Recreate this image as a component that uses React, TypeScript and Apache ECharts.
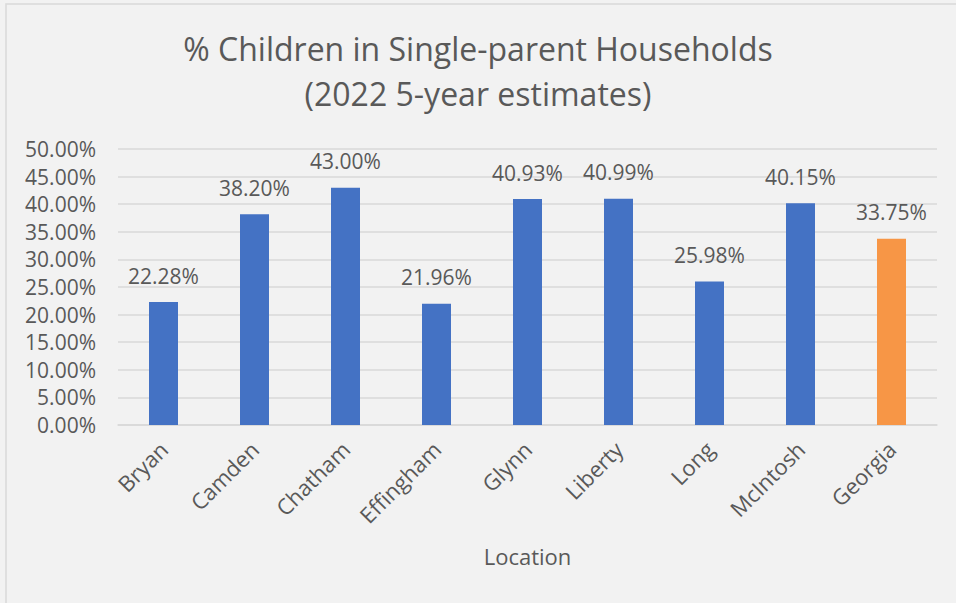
import React, { useEffect, useRef } from "react";
import * as echarts from "echarts";

const categories = ["Bryan", "Camden", "Chatham", "Effingham", "Glynn", "Liberty", "Long", "McIntosh", "Georgia"];
const values = [0.2228, 0.382, 0.43, 0.2196, 0.4093, 0.4099, 0.2598, 0.4015, 0.3375];
const highlightCategory = "Georgia";

const FONT = "'Open Sans', sans-serif";
const TEXT = "#595959";

export default function App() {
  const ref = useRef<HTMLDivElement>(null);
  useEffect(() => {
    if (!ref.current) return;
    const chart = echarts.init(ref.current, null, { renderer: "svg" });
    chart.setOption({
      animation: false,
      backgroundColor: "#f2f2f2",
      textStyle: { fontFamily: FONT, color: TEXT },
      title: {
        text: "% Children in Single-parent Households\n(2022 5-year estimates)",
        left: "center",
        top: 21,
        textStyle: { fontFamily: FONT, fontSize: 32, fontWeight: "normal", color: TEXT, lineHeight: 45 },
      },
      graphic: [
        {
          type: "rect",
          shape: { x: 6, y: 4, width: 980, height: 640 },
          style: { fill: "none", stroke: "#d9d9d9", lineWidth: 1.5 },
          silent: true,
        },
      ],
      grid: { left: 118, right: 19, top: 149, bottom: 178, containLabel: false },
      xAxis: {
        type: "category",
        data: categories,
        name: "Location",
        nameLocation: "middle",
        nameGap: 120,
        nameTextStyle: { fontFamily: FONT, fontSize: 22, color: TEXT },
        axisLine: { lineStyle: { color: "#d9d9d9", width: 1.5 } },
        axisTick: { show: false },
        axisLabel: { rotate: 45, fontFamily: FONT, fontSize: 22, color: TEXT, margin: 20, interval: 0 },
      },
      yAxis: {
        type: "value",
        min: 0,
        max: 0.5,
        interval: 0.05,
        axisLine: { show: false },
        axisTick: { show: false },
        splitLine: { lineStyle: { color: "#d9d9d9", width: 1.5 } },
        axisLabel: {
          fontFamily: FONT,
          fontSize: 21,
          color: TEXT,
          margin: 22,
          formatter: (v: number) => (v * 100).toFixed(2) + "%",
        },
      },
      series: [
        {
          type: "bar",
          barWidth: 29,
          data: values.map((v, i) => ({
            value: v,
            itemStyle: { color: categories[i] === highlightCategory ? "#f79646" : "#4472c4" },
          })),
          label: {
            show: true,
            position: "top",
            distance: 16,
            fontFamily: FONT,
            fontSize: 21,
            color: TEXT,
            formatter: (p: any) => (p.value * 100).toFixed(2) + "%",
          },
        },
      ],
    });
    return () => chart.dispose();
  }, []);
  return <div ref={ref} style={{ position: "absolute", left: 0, top: 0, width: 956, height: 603 }} />;
}
